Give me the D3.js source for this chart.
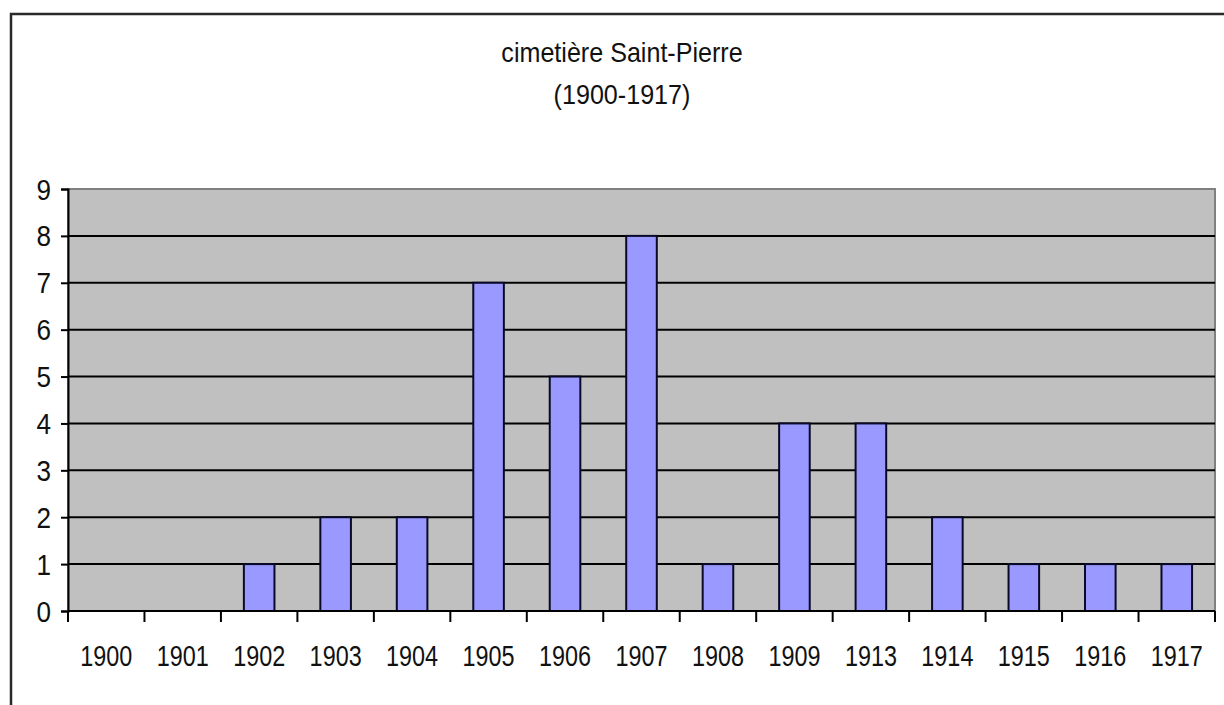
<!DOCTYPE html>
<html>
<head>
<meta charset="utf-8">
<script src="https://d3js.org/d3.v7.min.js"></script>
<style>
  body { margin: 0; background: #fff; }
  text { font-family: Arial, "Liberation Sans", sans-serif; fill: #111; }
</style>
</head>
<body>
<div id="chart"></div>
<script>
// years on the x axis and counts per year
var years = ["1900", "1901", "1902", "1903", "1904", "1905", "1906", "1907",
             "1908", "1909", "1913", "1914", "1915", "1916", "1917"]
var counts = [0, 0, 1, 2, 2, 7, 5, 8, 1, 4, 4, 2, 1, 1, 1]
var yTicks = [0, 1, 2, 3, 4, 5, 6, 7, 8, 9]
var titleLines = ["cimetière Saint-Pierre", "(1900-1917)"]

var width = 1224, height = 705
var plot = {left: 68, right: 1215, top: 189, bottom: 611}

var svg = d3.select("#chart").append("svg")
  .attr("width", width)
  .attr("height", height)

// outer frame (only left and top edges are in view)
svg.append("path")
  .attr("d", "M11," + height + "V14H" + width)
  .attr("fill", "none")
  .attr("stroke", "#2a2a2a")
  .attr("stroke-width", 2.5)

// title (the original text is a bit squeezed sideways)
svg.selectAll(".title")
  .data(titleLines)
  .enter().append("text")
  .attr("transform", function(d, i) { return "translate(622," + (62 + i * 42) + ") scale(0.93,1)" })
  .attr("text-anchor", "middle")
  .style("font-size", "27px")
  .text(function(d) { return d })

var x = d3.scaleBand()
  .domain(years)
  .range([plot.left, plot.right])
  .paddingInner(0.6)
  .paddingOuter(0.3)

var y = d3.scaleLinear()
  .domain([0, 9])
  .range([plot.bottom, plot.top])

// grey plot area
svg.append("rect")
  .attr("x", plot.left)
  .attr("y", plot.top)
  .attr("width", plot.right - plot.left)
  .attr("height", plot.bottom - plot.top)
  .attr("fill", "#c0c0c0")
  .attr("stroke", "#808080")
  .attr("stroke-width", 2)

// horizontal gridlines
svg.selectAll(".grid")
  .data(yTicks.filter(function(d) { return d > 0 && d < 9 }))
  .enter().append("line")
  .attr("x1", plot.left)
  .attr("x2", plot.right)
  .attr("y1", function(d) { return y(d) })
  .attr("y2", function(d) { return y(d) })
  .attr("stroke", "#000")
  .attr("stroke-width", 2)

// bars
svg.selectAll(".bar")
  .data(counts)
  .enter().append("rect")
  .attr("x", function(d, i) { return x(years[i]) })
  .attr("y", function(d) { return y(d) })
  .attr("width", x.bandwidth())
  .attr("height", function(d) { return y(0) - y(d) })
  .attr("fill", "#9999ff")
  .attr("stroke", "#0a0a28")
  .attr("stroke-width", 2)
  .style("display", function(d) { return d > 0 ? null : "none" })

// y axis
var yAxis = svg.append("g")
  .attr("transform", "translate(" + plot.left + ",0)")
  .call(d3.axisLeft(y).tickValues(yTicks).tickSize(7))
yAxis.select(".domain").attr("stroke", "#000").attr("stroke-width", 2)
yAxis.selectAll(".tick line").attr("stroke", "#000").attr("stroke-width", 2)
yAxis.selectAll(".tick text")
  .attr("x", null)
  .attr("dy", null)
  .attr("transform", "translate(-17,10) scale(0.9,1)")
  .style("font-size", "29px")
  .style("font-family", "Arial, 'Liberation Sans', sans-serif")
  .attr("fill", "#111")

// x axis: ticks at category boundaries
var step = x.step()
var boundaries = d3.range(years.length + 1).map(function(i) { return plot.left + i * step })
svg.selectAll(".xtick")
  .data(boundaries)
  .enter().append("line")
  .attr("x1", function(d) { return d })
  .attr("x2", function(d) { return d })
  .attr("y1", plot.bottom)
  .attr("y2", plot.bottom + 11)
  .attr("stroke", "#000")
  .attr("stroke-width", 2)

svg.append("line")
  .attr("x1", plot.left)
  .attr("x2", plot.right)
  .attr("y1", plot.bottom)
  .attr("y2", plot.bottom)
  .attr("stroke", "#000")
  .attr("stroke-width", 2)

svg.selectAll(".xlabel")
  .data(years)
  .enter().append("text")
  .attr("transform", function(d) {
    return "translate(" + (x(d) + x.bandwidth() / 2) + ",666) scale(0.78,1)"
  })
  .attr("text-anchor", "middle")
  .style("font-size", "30px")
  .text(function(d) { return d })
</script>
</body>
</html>
